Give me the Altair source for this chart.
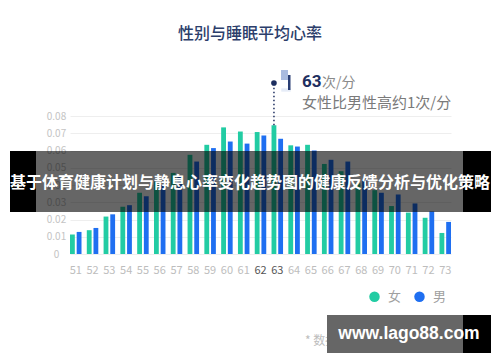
import altair as alt
import pandas as pd

heart_rate = list(range(51, 74))
female = [0.0113, 0.0138, 0.0217, 0.0274, 0.0355, 0.042, 0.047, 0.0575, 0.0633, 0.0734,
          0.071, 0.0707, 0.0746, 0.063, 0.0633, 0.0522, 0.048, 0.041, 0.037, 0.0278,
          0.024, 0.021, 0.0122]
male = [0.0128, 0.0151, 0.023, 0.0283, 0.0335, 0.040, 0.045, 0.0536, 0.0614, 0.0652,
        0.064, 0.0687, 0.0668, 0.0623, 0.060, 0.0546, 0.0536, 0.043, 0.0355, 0.0345,
        0.0293, 0.0247, 0.0186]
sexes = ["女", "男"]
y_ticks = [0, 0.01, 0.02, 0.03, 0.04, 0.05, 0.06, 0.07, 0.08]
peak_hr = 63

TEAL = "#22cca3"
BLUE = "#1f6ff1"
NAVY = "#1e2f60"
FONT = "Noto Sans CJK SC"

rows = []
for i, h in enumerate(heart_rate):
    rows.append({"hr": h, "sex": "女", "value": female[i]})
    rows.append({"hr": h, "sex": "男", "value": male[i]})
df = pd.DataFrame(rows)

x_enc = alt.X("hr:O", title=None,
              scale=alt.Scale(paddingInner=0.315, paddingOuter=0),
              axis=alt.Axis(labelAngle=0, domain=False, ticks=False, tickSize=0,
                            labelPadding=10, labelFontSize=11, labelOverlap=False,
                            labelColor=alt.expr("datum.value == 62 || datum.value == 63 ? '#555555' : '#bdbdbd'"),
                            grid=False))
xo_enc = alt.XOffset("sex:N", sort=sexes, scale=alt.Scale(domain=sexes, paddingInner=0.28, paddingOuter=0))
y_enc = alt.Y("value:Q", title=None,
              scale=alt.Scale(domain=[0, 0.08], nice=False),
              axis=alt.Axis(values=y_ticks, domain=False, ticks=False, tickSize=0,
                            labelAlign="center", labelPadding=14, labelFontSize=10,
                            labelOverlap=False, tickCount=9,
                            labelColor="#c4c4c4", grid=True, gridColor="#eeeeee",
                            labelExpr="datum.value == 0 ? '0' : format(datum.value, '.2f')"))

bars = alt.Chart(df).mark_bar().encode(
    x=x_enc,
    xOffset=xo_enc,
    y=y_enc,
    color=alt.Color("sex:N", sort=sexes,
                    scale=alt.Scale(domain=sexes, range=[TEAL, BLUE]),
                    legend=alt.Legend(orient="none", legendX=298, legendY=174,
                                      direction="horizontal", title=None,
                                      symbolType="circle", symbolSize=110,
                                      symbolStrokeWidth=0, labelFontSize=13,
                                      labelColor="#a0a0a0", labelOffset=7,
                                      columnPadding=11, padding=0)),
)

peak = pd.DataFrame([{"hr": peak_hr, "sex": "女",
                      "value": female[heart_rate.index(peak_hr)]}])

guide = alt.Chart(peak).mark_rule(color=NAVY, strokeWidth=1.5, strokeDash=[1.5, 2.5]).encode(
    x=x_enc, xOffset=xo_enc, y=y_enc, y2=alt.value(-33))
dot = alt.Chart(peak).mark_point(filled=True, color=NAVY, size=32, opacity=1).encode(
    x=x_enc, xOffset=xo_enc, y=alt.value(-33))

one = pd.DataFrame({"a": [0]})

def rect(x1, x2, y1, y2, color, opacity=1.0):
    return alt.Chart(one).mark_rect(color=color, opacity=opacity).encode(
        x=alt.value(x1), x2=alt.value(x2), y=alt.value(y1), y2=alt.value(y2))

def label(txt, x, y, size, color, align="left", weight="normal", font=FONT):
    return alt.Chart(one).mark_text(text=txt, align=align, baseline="middle",
                                    fontSize=size, color=color, fontWeight=weight,
                                    font=font).encode(x=alt.value(x), y=alt.value(y))

shadow = alt.Chart(one).mark_point(filled=True, color="#e6ecf7", size=90, shape="M-1,-0.35L1,-0.35L1,0.35L-1,0.35Z", opacity=1).encode(
    x=alt.value(216), y=alt.value(-26))
flag = rect(211, 218, -46, -36, "#a9bbdf")
pole = rect(218, 220.5, -41, -26, "#2b3f74")

title = label("性别与睡眠平均心率", 180, -82, 16, "#2c3e6b", align="center", weight=500)
big = label("63", 232, -34, 17, NAVY, weight="bold", font="Roboto")
unit = label("次/分", 252, -33, 14, "#8a8a8a")
sub = label("女性比男性高约1次/分", 232, -13, 15, "#7a7a7a")

banner_l = rect(-60, -34, 35, 96, "#000000")
banner_m = rect(-34, 393, 35, 96, "#000000", 0.6)
banner_r = rect(393, 421, 35, 96, "#000000")
banner_t = label("基于体育健康计划与静息心率变化趋势图的健康反馈分析与优化策略", 180, 67, 16, "#ffffff",
                 align="center", weight="bold")

foot = label("* 数据来源：睡眠健康监测报告", 235, 225, 12, "#bdbdbd")
wm_m = rect(257, 393, 199, 237, "#666666")
wm_r = rect(393, 421, 199, 237, "#000000")
wm_t = label("www.lago88.com", 339, 218, 17.5, "#ffffff", align="center", weight="bold",
             font="Liberation Sans")

chart = alt.layer(
    bars, guide, dot, shadow, flag, pole, title, big, unit, sub,
    banner_l, banner_m, banner_r, banner_t, foot, wm_m, wm_r, wm_t
).properties(
    width=381, height=138,
    autosize=alt.AutoSizeParams(type="none"),
    padding={"left": 62, "top": 108, "right": 41, "bottom": 100},
).configure(font=FONT).configure_view(stroke=None)

chart.save("out.html", embed_options={"renderer": "svg", "actions": False})
